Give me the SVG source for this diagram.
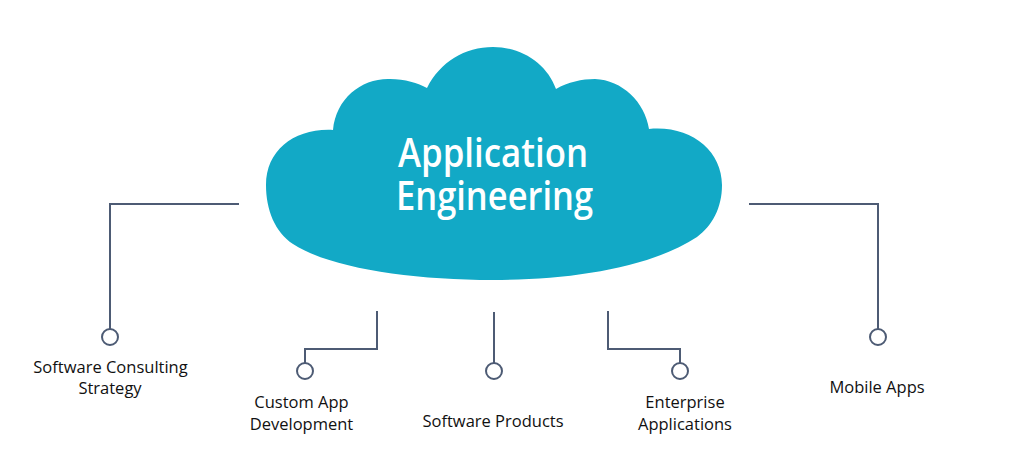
<svg xmlns="http://www.w3.org/2000/svg" width="1024" height="471" viewBox="0 0 1024 471">
<style>
.conn{fill:none;stroke:#4d5b74;stroke-width:2}
.dot{fill:#fff;stroke:#4d5b74;stroke-width:2}
.lbl{font-family:"Open Sans","Noto Sans","Liberation Sans",sans-serif;font-size:16.5px;fill:#111;text-anchor:middle}
.title{font-family:"Open Sans","Noto Sans","Liberation Sans",sans-serif;font-size:39px;font-weight:600;fill:#fff;text-anchor:middle}
</style>
<rect width="1024" height="471" fill="#fff"/>
<g id="cloud">
<path fill="#12a9c6" d="M266,185 C266,150 295,128 333,130 C336,98 362,78 390,79 C405,79 418,83 427,88 C440,62 465,47 493,47 C522,47 547,64 556,89 C568,82 582,79 595,79 C622,80 645,102 649,129 C690,125 722,150 722,185 C722,208 712,226 697,237 C650,268 570,280 493,280 C410,280 330,268 293,244 C275,232 266,210 266,185 Z"/>
<text class="title"><tspan x="493" y="167" textLength="190" lengthAdjust="spacingAndGlyphs">Application</tspan><tspan x="494.5" y="210" textLength="197" lengthAdjust="spacingAndGlyphs">Engineering</tspan></text>
</g>
<g id="connectors">
<path class="conn" d="M239,204 H110 V329"/>
<path class="conn" d="M377,311 V349 H305 V363"/>
<path class="conn" d="M494,312 V363"/>
<path class="conn" d="M608,311 V349 H680 V363"/>
<path class="conn" d="M749,204 H878 V329"/>
</g>
<g id="software-consulting">
<circle class="dot" cx="110" cy="337" r="8"/>
<text class="lbl" x="110.5" y="373">Software Consulting</text>
<text class="lbl" x="110" y="394">Strategy</text>
</g>
<g id="custom-app">
<circle class="dot" cx="305" cy="371" r="8"/>
<text class="lbl" x="301.5" y="408">Custom App</text>
<text class="lbl" x="301.5" y="430">Development</text>
</g>
<g id="software-products">
<circle class="dot" cx="494" cy="371" r="8"/>
<text class="lbl" x="493" y="427">Software Products</text>
</g>
<g id="enterprise">
<circle class="dot" cx="680" cy="371" r="8"/>
<text class="lbl" x="685" y="408">Enterprise</text>
<text class="lbl" x="685" y="430">Applications</text>
</g>
<g id="mobile-apps">
<circle class="dot" cx="878" cy="337" r="8"/>
<text class="lbl" x="877" y="393">Mobile Apps</text>
</g>
</svg>
